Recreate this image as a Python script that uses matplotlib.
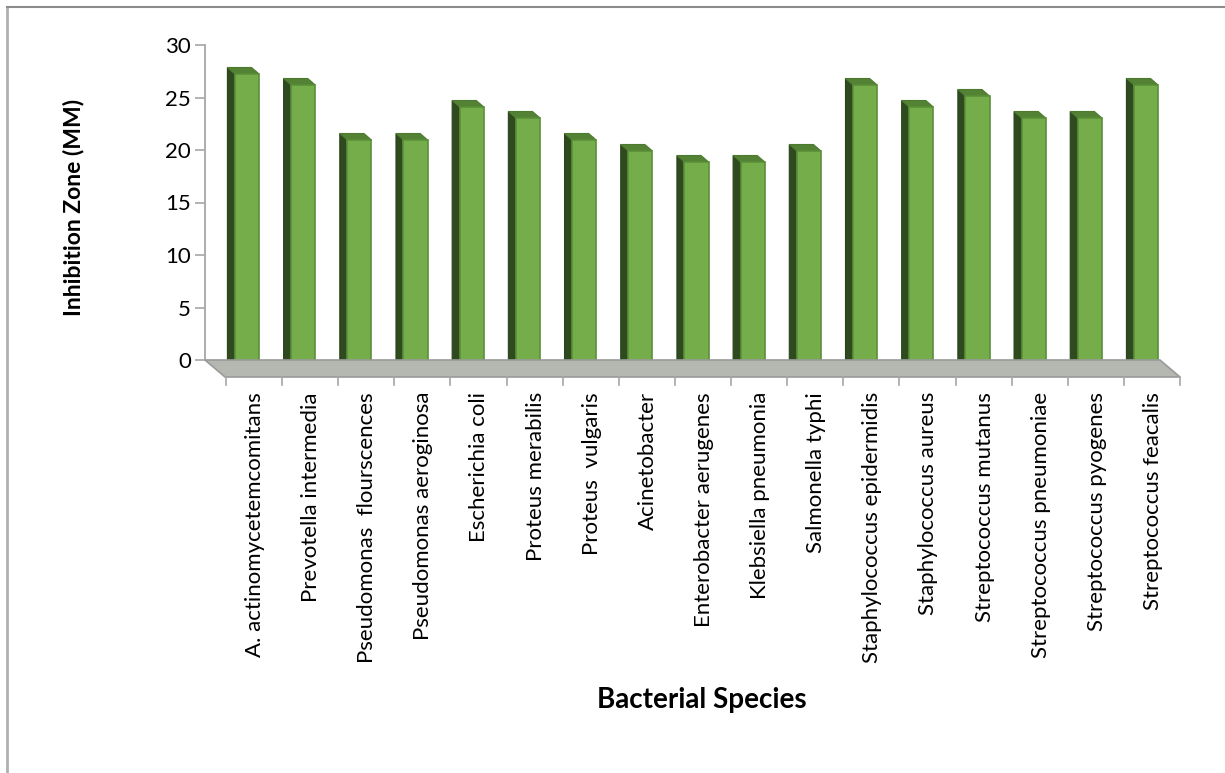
import matplotlib.pyplot as plt
from matplotlib.patches import Polygon
from matplotlib.transforms import offset_copy

species = ['A. actinomycetemcomitans', 'Prevotella intermedia', 'Pseudomonas  flourscences',
           'Pseudomonas aeroginosa', 'Escherichia coli', 'Proteus merabilis', 'Proteus  vulgaris',
           'Acinetobacter', 'Enterobacter aerugenes', 'Klebsiella pneumonia', 'Salmonella typhi',
           'Staphylococcus epidermidis', 'Staphylococcus aureus', 'Streptococcus mutanus',
           'Streptococcus pneumoniae', 'Streptococcus pyogenes', 'Streptococcus feacalis']
zone = [27, 26, 21, 21, 24, 23, 21, 20, 19, 19, 20, 26, 24, 25, 23, 23, 26]
yticks = [0, 5, 10, 15, 20, 25, 30]

plt.rcParams['font.family'] = ['Lato', 'DejaVu Sans']

W, H = 1225, 773
fig = plt.figure(figsize=(W / 100, H / 100), dpi=100)


def rect(x0, y0, x1, y1):
    # pixel box (top-left origin) -> figure fraction
    return [x0 / W, 1 - y1 / H, (x1 - x0) / W, (y1 - y0) / H]


n = len(species)

# back wall: value axis
back = fig.add_axes(rect(205, 45, 1160, 360))
back.set_xlim(0, n)
back.set_ylim(0, 30)
back.patch.set_visible(False)
for s in ['top', 'right', 'bottom']:
    back.spines[s].set_visible(False)
back.spines['left'].set_color('#a6a6a6')
back.spines['left'].set_linewidth(1.3)
back.set_xticks([])
back.set_yticks(yticks)
back.tick_params(axis='y', length=7, width=1.2, color='#a6a6a6', labelsize=16, pad=3)

fig.text(74 / W, 1 - 207 / H, 'Inhibition Zone (MM)', rotation=90, ha='center', va='center',
         fontsize=16.5, fontweight='bold')

# floor
floor = Polygon([(205 / W, 1 - 360 / H), (1160 / W, 1 - 360 / H),
                 (1180 / W, 1 - 377 / H), (225 / W, 1 - 377 / H)],
                closed=True, transform=fig.transFigure, facecolor='#b4b8b0',
                edgecolor='#9a9a9a', linewidth=1.2)
fig.patches.append(floor)
for k in range(n + 1):
    x = (226 + k * (1180 - 226) / n) / W
    fig.add_artist(plt.Line2D([x, x], [1 - 377 / H, 1 - 385 / H], color='#a6a6a6', lw=1.2))

# front plane of the columns
front = fig.add_axes(rect(218.9, 41, 1174.1, 371))
front.set_xlim(-0.5, n - 0.5)
front.set_ylim(0, 30)
front.axis('off')

bw = 0.43
dx, dy = -7.5, 6.5
shift = offset_copy(front.transData, fig=fig, x=dx, y=dy, units='dots')
for i, v in enumerate(zone):
    x0, x1 = i - bw / 2, i + bw / 2
    # side face
    side = [front.transData.transform((x0, 0)), front.transData.transform((x0, v)),
            shift.transform((x0, v)), shift.transform((x0, 0))]
    front.add_patch(Polygon(side, closed=True, transform=None, facecolor='#2e4a1e',
                            edgecolor='#2a441b', linewidth=0.8, zorder=2))
    # top face
    top = [front.transData.transform((x0, v)), front.transData.transform((x1, v)),
           shift.transform((x1, v)), shift.transform((x0, v))]
    front.add_patch(Polygon(top, closed=True, transform=None, facecolor='#548235',
                            edgecolor='#4d7a31', linewidth=0.8, zorder=2))
front.bar(range(n), zone, width=bw, color='#74ad4a', edgecolor='#5a8f38',
          linewidth=1.2, zorder=3)

# category labels
for i, name in enumerate(species):
    x = (255 + i * (1180 - 226) / n) / W
    fig.text(x, 1 - 392 / H, name, rotation=90, ha='center', va='top', fontsize=16)

fig.text(702 / W, 1 - 700 / H, 'Bacterial Species', ha='center', va='center',
         fontsize=20, fontweight='bold')

# chart area border
fig.add_artist(plt.Line2D([7 / W, 7 / W], [0, 1 - 7 / H], color='#b0b0b0', lw=2))
fig.add_artist(plt.Line2D([7 / W, 1], [1 - 7 / H, 1 - 7 / H], color='#8c8c8c', lw=1.5))

fig.savefig('out.png', dpi=100)
